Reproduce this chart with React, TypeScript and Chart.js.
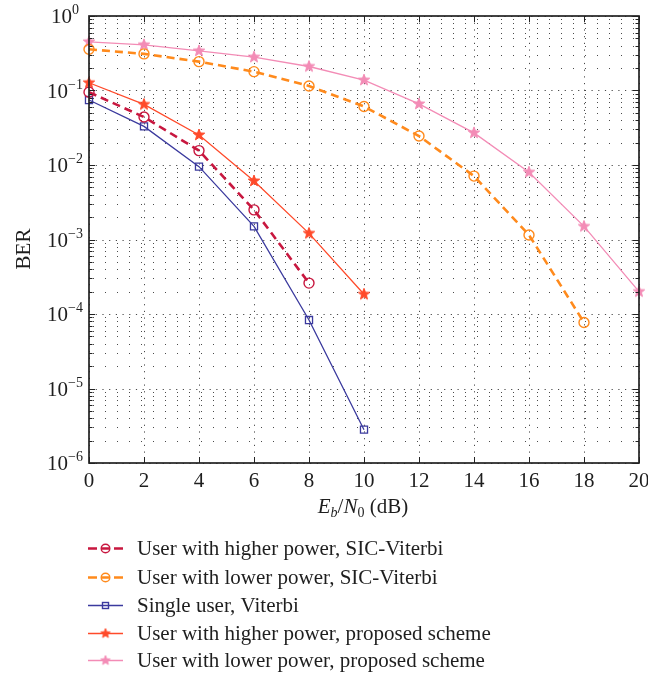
import React, { useEffect, useRef } from 'react';
import { Chart, registerables } from 'chart.js';

Chart.register(...registerables);

// ---------- data ----------
const snrDb = [0, 2, 4, 6, 8, 10, 12, 14, 16, 18, 20];
const sicHighBer = [0.095, 0.044, 0.0156, 0.0025, 0.00026];
const sicLowBer = [0.357, 0.31, 0.244, 0.179, 0.115, 0.061, 0.0245, 0.0071, 0.00115, 0.000077];
const singleBer = [0.0745, 0.033, 0.0095, 0.0015, 0.000083, 0.0000028];
const propHighBer = [0.127, 0.065, 0.0253, 0.0061, 0.00121, 0.000184];
const propLowBer = [0.45, 0.41, 0.34, 0.28, 0.21, 0.138, 0.066, 0.027, 0.008, 0.0015, 0.0002];

const seriesLabels = [
  'User with higher power, SIC-Viterbi',
  'User with lower power, SIC-Viterbi',
  'Single user, Viterbi',
  'User with higher power, proposed scheme',
  'User with lower power, proposed scheme',
];
const xTickValues = [0, 2, 4, 6, 8, 10, 12, 14, 16, 18, 20];
const yDecadeExps = [0, -1, -2, -3, -4, -5, -6];
const xTitleParts = ['E', 'b', '/', 'N', '0', ' (dB)'];
const yTitle = 'BER';

const COLORS = {
  sicHigh: '#c8173f',
  sicLow: '#ff8a1c',
  single: '#3b3a9e',
  propHigh: '#ff4a2a',
  propLow: '#f38cb6',
};
const FONT = '"Liberation Serif", "Times New Roman", serif';
const TEXT = '#1e1e1e';

function makeStar(color: string, R: number): HTMLCanvasElement {
  const size = Math.ceil(R * 2 + 4);
  const c = document.createElement('canvas');
  c.width = size;
  c.height = size;
  const g = c.getContext('2d')!;
  const cx = size / 2, cy = size / 2;
  const r = R * 0.42;
  g.beginPath();
  for (let i = 0; i < 10; i++) {
    const rad = i % 2 === 0 ? R : r;
    const a = -Math.PI / 2 + (i * Math.PI) / 5;
    const px = cx + rad * Math.cos(a);
    const py = cy + rad * Math.sin(a);
    if (i === 0) g.moveTo(px, py);
    else g.lineTo(px, py);
  }
  g.closePath();
  g.fillStyle = color;
  g.fill();
  g.strokeStyle = color;
  g.lineWidth = 1;
  g.stroke();
  return c;
}

function toPoints(vals: number[]) {
  return vals.map((v, i) => ({ x: snrDb[i], y: v }));
}

export default function App() {
  const ref = useRef<HTMLCanvasElement | null>(null);

  useEffect(() => {
    document.body.style.margin = '0';
    const canvas = ref.current!;
    const starRed = makeStar(COLORS.propHigh, 6);
    const starPink = makeStar(COLORS.propLow, 6);
    const starRedSmall = makeStar(COLORS.propHigh, 5);
    const starPinkSmall = makeStar(COLORS.propLow, 5);

    const legendItems = [
      { color: COLORS.sicHigh, kind: 'circle', dashed: true },
      { color: COLORS.sicLow, kind: 'circle', dashed: true },
      { color: COLORS.single, kind: 'square', dashed: false },
      { color: COLORS.propHigh, kind: 'star', img: starRedSmall, dashed: false },
      { color: COLORS.propLow, kind: 'star', img: starPinkSmall, dashed: false },
    ];

    const decor = {
      id: 'decor',
      beforeDatasetsDraw(chart: any) {
        const { ctx, chartArea: a, scales } = chart;
        const x = scales.x, y = scales.y;
        ctx.save();
        ctx.strokeStyle = '#4a4a4a';
        ctx.lineWidth = 1;
        // minor horizontal grid
        ctx.setLineDash([1, 11]);
        for (let k = -6; k < 0; k++) {
          for (let m = 2; m <= 9; m++) {
            const py = Math.round(y.getPixelForValue(m * Math.pow(10, k))) + 0.5;
            ctx.beginPath();
            ctx.moveTo(a.left + 4, py);
            ctx.lineTo(a.right, py);
            ctx.stroke();
          }
        }
        // major horizontal grid
        ctx.setLineDash([1.2, 5.5]);
        for (const e of yDecadeExps) {
          const py = Math.round(y.getPixelForValue(Math.pow(10, e))) + 0.5;
          ctx.beginPath();
          ctx.moveTo(a.left, py);
          ctx.lineTo(a.right, py);
          ctx.stroke();
        }
        // vertical grid
        for (const xv of xTickValues) {
          const px = Math.round(x.getPixelForValue(xv)) + 0.5;
          ctx.beginPath();
          ctx.moveTo(px, a.top);
          ctx.lineTo(px, a.bottom);
          ctx.stroke();
        }
        ctx.restore();
      },
      afterDatasetsDraw(chart: any) {
        const { ctx, chartArea: a, scales } = chart;
        const x = scales.x, y = scales.y;
        ctx.save();
        ctx.setLineDash([]);
        ctx.strokeStyle = '#222';
        ctx.lineWidth = 1;
        // ticks
        for (let k = -6; k < 0; k++) {
          for (let m = 2; m <= 9; m++) {
            const py = Math.round(y.getPixelForValue(m * Math.pow(10, k))) + 0.5;
            ctx.beginPath();
            ctx.moveTo(a.left, py); ctx.lineTo(a.left + 3.5, py);
            ctx.moveTo(a.right, py); ctx.lineTo(a.right - 3.5, py);
            ctx.stroke();
          }
        }
        for (const e of yDecadeExps) {
          const py = Math.round(y.getPixelForValue(Math.pow(10, e))) + 0.5;
          ctx.beginPath();
          ctx.moveTo(a.left, py); ctx.lineTo(a.left + 6, py);
          ctx.moveTo(a.right, py); ctx.lineTo(a.right - 6, py);
          ctx.stroke();
        }
        for (const xv of xTickValues) {
          const px = Math.round(x.getPixelForValue(xv)) + 0.5;
          ctx.beginPath();
          ctx.moveTo(px, a.bottom); ctx.lineTo(px, a.bottom - 6);
          ctx.moveTo(px, a.top); ctx.lineTo(px, a.top + 6);
          ctx.stroke();
        }
        // frame
        ctx.lineWidth = 1.7;
        ctx.strokeStyle = '#222';
        ctx.strokeRect(Math.round(a.left), Math.round(a.top), Math.round(a.right - a.left), Math.round(a.bottom - a.top));

        // y tick labels
        ctx.fillStyle = TEXT;
        ctx.textBaseline = 'alphabetic';
        for (const e of yDecadeExps) {
          const py = y.getPixelForValue(Math.pow(10, e));
          const sup = e === 0 ? '0' : '\u2212' + String(-e);
          ctx.font = `21px ${FONT}`;
          const wBase = ctx.measureText('10').width;
          ctx.font = `14px ${FONT}`;
          const wSup = ctx.measureText(sup).width;
          const left = 65 - (wBase + wSup) / 2;
          ctx.font = `21px ${FONT}`;
          ctx.textAlign = 'left';
          ctx.fillText('10', left, py + 7);
          ctx.font = `14px ${FONT}`;
          ctx.fillText(sup, left + wBase, py - 2);
        }
        // x tick labels
        ctx.font = `21px ${FONT}`;
        ctx.textAlign = 'center';
        ctx.textBaseline = 'middle';
        for (const xv of xTickValues) {
          ctx.fillText(String(xv), x.getPixelForValue(xv), a.bottom + 18);
        }
        // x title
        const parts = [
          { t: xTitleParts[0], f: `italic 21px ${FONT}`, dy: 0 },
          { t: xTitleParts[1], f: `italic 14px ${FONT}`, dy: 4 },
          { t: xTitleParts[2], f: `21px ${FONT}`, dy: 0 },
          { t: xTitleParts[3], f: `italic 21px ${FONT}`, dy: 0 },
          { t: xTitleParts[4], f: `14px ${FONT}`, dy: 4 },
          { t: xTitleParts[5], f: `21px ${FONT}`, dy: 0 },
        ];
        ctx.textBaseline = 'alphabetic';
        ctx.textAlign = 'left';
        let total = 0;
        for (const p of parts) { ctx.font = p.f; total += ctx.measureText(p.t).width; }
        let cx = (a.left + a.right) / 2 - total / 2 - 1;
        const base = 513;
        for (const p of parts) {
          ctx.font = p.f;
          ctx.fillText(p.t, cx, base + p.dy);
          cx += ctx.measureText(p.t).width;
        }
        // y title
        ctx.save();
        ctx.translate(24, 249);
        ctx.rotate(-Math.PI / 2);
        ctx.font = `21px ${FONT}`;
        ctx.textAlign = 'center';
        ctx.textBaseline = 'middle';
        ctx.fillText(yTitle, 0, 0);
        ctx.restore();

        // legend
        const rowYs = [548, 576.5, 604.5, 632.5, 660];
        legendItems.forEach((it: any, i: number) => {
          const ly = Math.round(rowYs[i]) + 0.5;
          const mx = 105.5;
          ctx.strokeStyle = it.color;
          ctx.setLineDash([]);
          if (it.dashed) {
            ctx.lineWidth = 2.6;
            ctx.beginPath();
            ctx.moveTo(88, ly); ctx.lineTo(97, ly);
            ctx.moveTo(114, ly); ctx.lineTo(123, ly);
            ctx.moveTo(101.5, ly); ctx.lineTo(109.5, ly);
            ctx.stroke();
            ctx.lineWidth = 1.4;
            ctx.beginPath();
            ctx.arc(mx, ly, 4.3, 0, Math.PI * 2);
            ctx.stroke();
          } else {
            ctx.lineWidth = 1.4;
            ctx.beginPath();
            ctx.moveTo(88, ly); ctx.lineTo(123, ly);
            ctx.stroke();
            if (it.kind === 'square') {
              ctx.strokeRect(mx - 3, ly - 3, 6, 6);
            } else if (it.img) {
              ctx.drawImage(it.img, mx - it.img.width / 2, ly - it.img.height / 2);
            }
          }
          ctx.fillStyle = TEXT;
          ctx.font = `21px ${FONT}`;
          ctx.textAlign = 'left';
          ctx.textBaseline = 'middle';
          ctx.fillText(seriesLabels[i], 137, ly + 1);
        });
        ctx.restore();
      },
    };

    const chart = new Chart(canvas, {
      type: 'line',
      data: {
        datasets: [
          {
            label: seriesLabels[0],
            data: toPoints(sicHighBer),
            borderColor: COLORS.sicHigh,
            borderWidth: 2.6,
            borderDash: [8, 5],
            pointStyle: 'circle',
            pointRadius: 5,
            pointBorderWidth: 1.4,
            pointBorderColor: COLORS.sicHigh,
            pointBackgroundColor: 'rgba(0,0,0,0)',
            clip: false,
          },
          {
            label: seriesLabels[1],
            data: toPoints(sicLowBer),
            borderColor: COLORS.sicLow,
            borderWidth: 2.6,
            borderDash: [8, 5],
            pointStyle: 'circle',
            pointRadius: 5,
            pointBorderWidth: 1.4,
            pointBorderColor: COLORS.sicLow,
            pointBackgroundColor: 'rgba(0,0,0,0)',
            clip: false,
          },
          {
            label: seriesLabels[2],
            data: toPoints(singleBer),
            borderColor: COLORS.single,
            borderWidth: 1.3,
            pointStyle: 'rect',
            pointRadius: 5,
            pointBorderWidth: 1.3,
            pointBorderColor: COLORS.single,
            pointBackgroundColor: 'rgba(0,0,0,0)',
            clip: false,
          },
          {
            label: seriesLabels[3],
            data: toPoints(propHighBer),
            borderColor: COLORS.propHigh,
            borderWidth: 1.3,
            pointStyle: starRed,
            pointRadius: 6,
            clip: false,
          },
          {
            label: seriesLabels[4],
            data: toPoints(propLowBer),
            borderColor: COLORS.propLow,
            borderWidth: 1.3,
            pointStyle: starPink,
            pointRadius: 6,
            clip: false,
          },
        ] as any,
      },
      options: {
        responsive: false,
        animation: false,
        devicePixelRatio: 1,
        layout: { padding: { left: 89, right: 9, top: 16, bottom: 212 } },
        scales: {
          x: { type: 'linear', min: 0, max: 20, display: false },
          y: { type: 'logarithmic', min: 1e-6, max: 1, display: false },
        },
        plugins: { legend: { display: false }, tooltip: { enabled: false } },
        elements: { line: { tension: 0 } },
      },
      plugins: [decor],
    });
    return () => chart.destroy();
  }, []);

  return (
    <div style={{ width: 648, height: 675, background: '#fff' }}>
      <canvas ref={ref} width={648} height={675} style={{ display: 'block' }} />
    </div>
  );
}
